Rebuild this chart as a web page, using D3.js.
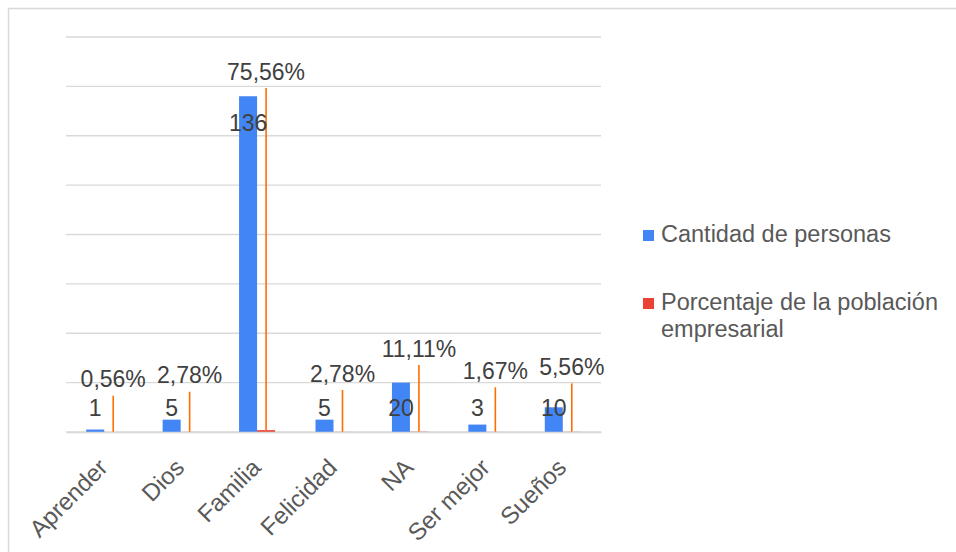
<!DOCTYPE html>
<html>
<head>
<meta charset="utf-8">
<script src="https://cdn.jsdelivr.net/npm/d3@7"></script>
<style>
  html, body { margin: 0; padding: 0; background: #ffffff; }
  svg { display: block; font-family: "Liberation Sans", Arial, sans-serif; }
</style>
</head>
<body>
<svg id="chart" width="956" height="552"></svg>
<script>
// ---- data ----
const categories = ["Aprender", "Dios", "Familia", "Felicidad", "NA", "Ser mejor", "Sueños"];
const cantidad = [1, 5, 136, 5, 20, 3, 10];
const porcentaje = [0.0056, 0.0278, 0.7556, 0.0278, 0.1111, 0.0167, 0.0556];
const seriesNames = ["Cantidad de personas", "Porcentaje de la población empresarial"];
const yTicks = [0, 20, 40, 60, 80, 100, 120, 140, 160];
// end of the percentage label leader lines (manually dragged labels), in axis units
const pctLabelAnchor = [14.7, 16.3, 139.3, 17.0, 27.1, 18.1, 19.7];

// ---- layout ----
const colors = ["#4285F4", "#EA4335"];
const leaderColor = "#FF6D01";
const plot = { left: 66, right: 601, top: 37, bottom: 432 };

const svg = d3.select("#chart");

// outer border
svg.append("rect")
  .attr("x", 8.5).attr("y", 8.5)
  .attr("width", 1100).attr("height", 700)
  .attr("fill", "none").attr("stroke", "#d9d9d9").attr("stroke-width", 1.5);

const x = d3.scaleBand().domain(categories)
  .range([plot.left, plot.right]).paddingInner(0.529).paddingOuter(0.2645);
const xs = d3.scaleBand().domain([0, 1]).range([0, x.bandwidth()]);
const y = d3.scaleLinear().domain([0, 160]).range([plot.bottom, plot.top]);

// gridlines
svg.append("g").selectAll("line").data(yTicks).join("line")
  .attr("x1", plot.left).attr("x2", plot.right)
  .attr("y1", d => y(d)).attr("y2", d => y(d))
  .attr("stroke", "#d9d9d9").attr("stroke-width", 1.4);

// data rows
const rows = categories.map((c, i) => ({ c, n: cantidad[i], p: porcentaje[i], a: pctLabelAnchor[i] }));

// blue bars
svg.append("g").selectAll("rect").data(rows).join("rect")
  .attr("x", d => x(d.c) + xs(0))
  .attr("width", xs.bandwidth())
  .attr("y", d => y(d.n))
  .attr("height", d => y(0) - y(d.n))
  .attr("fill", colors[0]);

// red bars (percentage on same axis)
svg.append("g").selectAll("rect").data(rows).join("rect")
  .attr("x", d => x(d.c) + xs(1))
  .attr("width", xs.bandwidth())
  .attr("y", d => y(d.p))
  .attr("height", d => Math.max(0, y(0) - y(d.p)))
  .attr("fill", colors[1]);

// leader lines
svg.append("g").selectAll("line").data(rows).join("line")
  .attr("x1", d => x(d.c) + xs(1) + xs.bandwidth() / 2)
  .attr("x2", d => x(d.c) + xs(1) + xs.bandwidth() / 2)
  .attr("y1", d => y(d.p))
  .attr("y2", d => y(d.a))
  .attr("stroke", leaderColor).attr("stroke-width", 1.6);

const fmtPct = v => (v * 100).toFixed(2).replace(".", ",") + "%";

// percentage labels
svg.append("g").selectAll("text").data(rows).join("text")
  .attr("x", d => x(d.c) + xs(1) + xs.bandwidth() / 2)
  .attr("y", d => y(d.a) - 8.5)
  .attr("text-anchor", "middle")
  .attr("font-size", 23)
  .attr("fill", "#404040")
  .text(d => fmtPct(d.p));

// count labels
svg.append("g").selectAll("text").data(rows).join("text")
  .attr("x", d => x(d.c) + xs(0) + xs.bandwidth() / 2)
  .attr("y", d => Math.min(y(d.n) + 35, y(0) - 16))
  .attr("text-anchor", "middle")
  .attr("font-size", 23)
  .attr("fill", "#404040")
  .text(d => d.n);

// x axis
const xAxis = svg.append("g")
  .attr("transform", `translate(0,${plot.bottom})`)
  .call(d3.axisBottom(x).tickSize(0).tickPadding(0));
xAxis.select(".domain").attr("stroke", "#d9d9d9").attr("stroke-width", 1.4);
xAxis.selectAll("text")
  .attr("x", 0).attr("y", 0).attr("dy", 0)
  .attr("text-anchor", "end")
  .attr("transform", "translate(5,37) rotate(-45)")
  .attr("font-size", 24)
  .attr("font-family", "Liberation Sans, Arial, sans-serif")
  .attr("fill", "#595959");

// legend
const legend = svg.append("g");
const legendItems = [
  { lines: [seriesNames[0]], y: 242 },
  { lines: ["Porcentaje de la población", "empresarial"], y: 310 }
];
legendItems.forEach((item, i) => {
  legend.append("rect")
    .attr("x", 643).attr("y", item.y - 12)
    .attr("width", 11).attr("height", 11)
    .attr("fill", colors[i]);
  const t = legend.append("text")
    .attr("x", 661).attr("y", item.y)
    .attr("font-size", 23.5).attr("fill", "#595959");
  item.lines.forEach((ln, j) => {
    t.append("tspan").attr("x", 661).attr("dy", j === 0 ? 0 : 27).text(ln);
  });
});
</script>
</body>
</html>
